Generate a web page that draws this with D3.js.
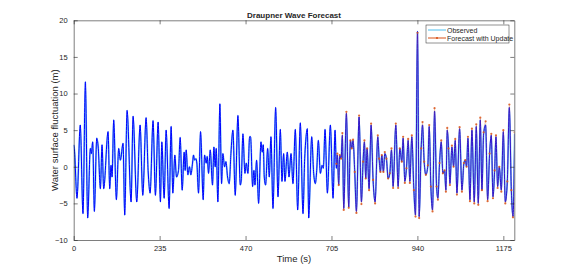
<!DOCTYPE html>
<html>
<head>
<meta charset="utf-8">
<script src="https://cdn.jsdelivr.net/npm/d3@7"></script>
<style>
  body { margin: 0; background: #fff; }
  text { font-family: "Liberation Sans", Arial, sans-serif; fill: #262626; }
</style>
</head>
<body>
<div id="chart"></div>
<script>
// observed record, read as turning points (time s, surface m)
var obsTime = [0, 2, 9, 18, 25.4, 32, 38.2, 45.5, 48.3, 52, 56.5, 63, 67, 73, 77.5, 82, 94, 98.5, 102, 105, 109.4, 116.7, 123, 127.7, 135, 139.5, 146, 157, 162.4, 172.4, 181.6, 188.9, 198, 203.5, 209, 217, 223.5, 230.9, 237.2,
  241, 247.4, 252.8, 261, 266.5, 271.1, 276.6, 281.1, 286.6, 291.2, 296.7, 302.1, 304.9, 307.6, 312.2, 316.7, 320.4, 325, 327.7, 330.4, 334.1, 336.8, 341.4, 346.9, 354.2, 357.8, 362.4, 365.1, 368.8, 373.4, 379.7, 383.4, 387, 389.8, 394.3, 399.8, 404.4, 408, 412.6, 416.3, 420.8, 425.4, 430, 435.4, 441.8, 449.1, 455.5, 458.3, 462.8, 468.3, 472, 476.5,
  481.1, 483.8, 489.3, 492.9, 495.7, 500.2, 505.7, 512.1, 515.7, 518.5, 521.2, 524.9, 530.4, 534.9, 539.5, 545, 552.3, 558.7, 565.1, 569.6, 574.2, 577.8, 584.2, 588.8, 594.3, 599.7, 606.1, 612.5, 619.8, 627.1, 631.7, 634.4, 639, 642.7, 650.9, 656.3, 660.9, 664.6, 669.1, 674.6, 679.2, 682.8, 687.4, 693.8, 702, 709.3, 714.8,
  718.4, 721.1, 724.8, 727.5, 731.2, 734.8, 738.5, 745.8, 752.2, 756.7, 760.4, 764, 768.6, 773.2, 780.5, 786.9, 791.4, 795.1, 798.7, 802.4, 807.9, 813.4, 818.8, 824.3, 831.6, 835.3, 838.9, 842.6, 847.1, 850.8, 855.3, 859.9, 864.5, 869.1, 873.6, 880.9, 887.3, 891.9, 897.3, 901, 905.6, 910.1, 914.7, 919.3, 924.7, 930.2, 934.8, 940.3, 944.8, 950.3, 954, 958.5,
  963.1, 968.6, 972.3, 976.8, 981.4, 986.9, 992.4, 996, 1000.6, 1005.2, 1009.7, 1014.3, 1017.9, 1021.6, 1025.2, 1028.9, 1034.4, 1038.9, 1043.5, 1048.1, 1055.4, 1061.8, 1067.2, 1070.9, 1074.5, 1078.2, 1083.7, 1089.1, 1095.5, 1101, 1106.5, 1112, 1116.5, 1121.1, 1126.6, 1132, 1137.5, 1142.1, 1146.7, 1151.2, 1154.9, 1159.4, 1164, 1169.5, 1175, 1180.4, 1185.9, 1191.4, 1196.9, 1201.4, 1206];
var obsValue = [3.0, 2.3, -4.3, 5.7, -6.4, 11.6, -7.0, 2.5, 1.8, 3.4, -6.1, 3.9, 2.7, -3.0, 3.0, -3.0, 4.8, -3.0, 0.2, -1.4, 6.4, -4.5, 2.5, 0.9, 3.2, -6.6, 7.7, -4.8, 6.9, -4.8, 5.7, -3.9, 6.7, -0.5, -3.6, 6.3, -3.9, 6.1, -4.8,
  3.4, -4.3, 5.0, -5.7, 5.5, -3.6, 1.6, -1.4, -0.5, 4.0, -3.2, 2.0, -0.5, 2.3, -1.1, 0, -1.1, 0.5, 1.6, 0.9, 1.1, 0.5, -3.6, 4.8, -4.5, 1.6, 0.5, 1.4, -0.9, 2.3, -2.5, 2.7, 0, 2.5, -4.8, 8.6, -2.3, 1.8, 0, 0.7, -1.4, -2.3, 1.8, 5.0, -3.9, 7.0, -2.5, -1.8, 4.5, -0.9, 0.5, -0.9,
  4.1, 4.1, -2.7, -0.5, -2.5, 0.9, -5.0, 3.4, 2.0, 3.0, -1.4, -2.5, 2.5, -1.4, 4.1, -5.7, 8.1, -4.1, 5.1, -2.0, 1.8, -2.0, 2.0, -1.4, 1.8, -2.3, 5.1, -5.9, 6.0, -6.4, 1.1, 3.4, 5.2, -7.0, 4.1, -0.9, -2.3, -0.5, 3.6, -0.9, 0.2, -0.2, 5.1, -3.6, 5.7, -4.3, 5.0,
  -0.2, 1.6, -2.5, 1.6, 1.1, 4.3, -5.7, 7.3, -5.5, 3.6, 2.5, 3.6, -0.7, -6.1, 6.8, -4.8, 0.7, 3.4, -1.6, 2.5, -3.0, 5.7, -1.8, -4.8, 4.1, 1.1, -0.7, 1.6, -0.7, 1.8, 1.1, -1.6, -0.9, 2.3, -2.7, 5.7, -2.7, 2.5, 0.7, 3.9, -2.0, -0.2, 3.6, -2.0, 4.1, -3.0, -6.6, 18.5, -6.8, 2.5, 5.7, 0.7,
  -1.1, 0.2, 5.5, -2.7, -5.9, 7.6, -2.7, -4.3, 0.5, 3.4, -0.9, -0.5, -3.2, 5.0, 2.5, -2.3, 2.7, 0, 3.6, -3.6, 5.2, -3.2, 0.5, 0.9, 0, 3.9, -4.5, 5.0, -4.8, 5.5, -5.0, 6.4, -3.2, 4.5, 5.7, -4.5, 1.8, 4.3, -4.1, -0.5, 4.1, -2.7, 0, -3.2, 4.8, -4.8, -2.0, 8.1, -3.2, -6.8, 4.5];

// forecast with update (from 718 s)
var fcTime = [718.4, 721.1, 724.8, 727.5, 731.2, 734.8, 738.5, 745.8, 752.2, 756.7, 760.4, 764, 768.6, 773.2, 780.5, 786.9, 791.4, 795.1, 798.7, 802.4, 807.9, 813.4, 818.8, 824.3, 831.6, 835.3, 838.9, 842.6, 847.1, 850.8, 855.3, 859.9, 864.5, 869.1, 873.6, 880.9, 887.3, 891.9, 897.3, 901, 905.6, 910.1, 914.7, 919.3, 924.7, 930.2, 934.8, 940.3, 944.8, 950.3, 954, 958.5,
  963.1, 968.6, 972.3, 976.8, 981.4, 986.9, 992.4, 996, 1000.6, 1005.2, 1009.7, 1014.3, 1017.9, 1021.6, 1025.2, 1028.9, 1034.4, 1038.9, 1043.5, 1048.1, 1055.4, 1061.8, 1067.2, 1070.9, 1074.5, 1078.2, 1083.7, 1089.1, 1095.5, 1101, 1106.5, 1112, 1116.5, 1121.1, 1126.6, 1132, 1137.5, 1142.1, 1146.7, 1151.2, 1154.9, 1159.4, 1164, 1169.5, 1175, 1180.4, 1185.9, 1191.4, 1196.9, 1201.4, 1206];
var fcValue = [0.4, 1.8, -2.5, 1.6, 1.1, 4.6, -5.9, 7.5, -5.6, 3.6, 2.5, 3.7, -0.7, -6.3, 7.0, -5.1, 0.7, 3.6, -1.6, 2.5, -3.2, 5.9, -1.8, -5.0, 4.3, 1.1, -0.7, 1.6, -0.7, 2.0, 1.1, -1.6, -0.9, 2.5, -2.9, 5.9, -2.9, 2.5, 0.7, 4.1, -2.2, -0.2, 3.8, -2.2, 4.3, -3.2, -6.8, 18.3, -7.0, 2.5, 6.1, 0.7,
  -1.1, 0.2, 5.7, -2.7, -6.1, 8.0, -2.7, -4.5, 0.5, 3.6, -0.9, -0.5, -3.4, 5.3, 2.5, -2.5, 2.9, 0, 3.8, -3.8, 5.4, -3.4, 0.5, 0.9, 0, 4.1, -4.7, 5.2, -5.0, 5.8, -5.2, 6.7, -3.2, 4.7, 6.2, -4.7, 1.8, 4.5, -4.3, -0.5, 4.3, -2.9, 0, -3.4, 5.0, -5.0, -2.0, 8.5, -3.2, -6.9, 4.7];

var xTicks = [0, 235, 470, 705, 940, 1175];
var yTicks = [-10, -5, 0, 5, 10, 15, 20];

var width = 568, height = 270;
var margin = {left: 73.7, right: 568 - 514.3, top: 20.3, bottom: 270 - 240};

var svg = d3.select("#chart").append("svg")
  .attr("width", width)
  .attr("height", height);

var x = d3.scaleLinear().domain([0, 1205]).range([margin.left, width - margin.right]);
var y = d3.scaleLinear().domain([-10, 20]).range([height - margin.bottom, margin.top]);

svg.append("defs").append("clipPath").attr("id", "plotclip")
  .append("rect")
  .attr("x", x(0)).attr("y", y(20))
  .attr("width", x(1205) - x(0)).attr("height", y(-10) - y(20));

var obs = obsTime.map((t, i) => ({t: t, v: obsValue[i]}));
var fc = fcTime.map((t, i) => ({t: t, v: fcValue[i]}));

var line = d3.line()
  .x(d => x(d.t))
  .y(d => y(d.v))
  .curve(d3.curveMonotoneX);

var plot = svg.append("g").attr("clip-path", "url(#plotclip)");

// observed (light blue) under the blue trace
plot.append("path")
  .attr("d", line(obs))
  .attr("fill", "none")
  .attr("stroke", "#4DBEEE")
  .attr("stroke-opacity", 0.7)
  .attr("stroke-width", 1.8);

plot.append("path")
  .attr("d", line(obs))
  .attr("fill", "none")
  .attr("stroke", "#0000FF")
  .attr("stroke-width", 1.0);

plot.append("path")
  .attr("d", line(fc))
  .attr("fill", "none")
  .attr("stroke", "#D95319")
  .attr("stroke-opacity", 0.4)
  .attr("stroke-width", 0.6);

plot.selectAll(".fc-dot").data(fc)
  .join("circle")
  .attr("class", "fc-dot")
  .attr("cx", d => x(d.t))
  .attr("cy", d => y(d.v))
  .attr("r", 1.1)
  .attr("fill", "#D95319")
  .attr("fill-opacity", 0.85);

// axes box, MATLAB style with inward ticks all round
var axisColor = "#262626";
var xAxisB = d3.axisBottom(x).tickValues(xTicks).tickSizeInner(-4).tickSizeOuter(0).tickPadding(6).tickFormat(d3.format("d"));
var xAxisT = d3.axisTop(x).tickValues(xTicks).tickSizeInner(-4).tickSizeOuter(0).tickFormat("");
var yAxisL = d3.axisLeft(y).tickValues(yTicks).tickSizeInner(-4).tickSizeOuter(0).tickPadding(6);
var yAxisR = d3.axisRight(y).tickValues(yTicks).tickSizeInner(-4).tickSizeOuter(0).tickFormat("");

function styleAxis(g) {
  g.select(".domain").attr("stroke", axisColor).attr("stroke-width", 0.6);
  g.selectAll(".tick line").attr("stroke", axisColor).attr("stroke-width", 0.6);
  g.selectAll(".tick text").attr("fill", axisColor).style("font-size", "7.5px")
    .style("font-family", "'Liberation Sans', Arial, sans-serif");
}

svg.append("g").attr("transform", `translate(0,${y(-10)})`).call(xAxisB).call(styleAxis);
svg.append("g").attr("transform", `translate(0,${y(20)})`).call(xAxisT).call(styleAxis);
svg.append("g").attr("transform", `translate(${x(0)},0)`).call(yAxisL).call(styleAxis);
svg.append("g").attr("transform", `translate(${x(1205)},0)`).call(yAxisR).call(styleAxis);

// labels
svg.append("text")
  .attr("x", (x(0) + x(1205)) / 2)
  .attr("y", 17.5)
  .attr("text-anchor", "middle")
  .style("font-size", "8px")
  .style("font-weight", "bold")
  .text("Draupner Wave Forecast");

svg.append("text")
  .attr("x", (x(0) + x(1205)) / 2)
  .attr("y", 261.5)
  .attr("text-anchor", "middle")
  .style("font-size", "9.5px")
  .text("Time (s)");

svg.append("text")
  .attr("transform", `translate(58,${(y(-10) + y(20)) / 2}) rotate(-90)`)
  .attr("text-anchor", "middle")
  .style("font-size", "9.5px")
  .text("Water surface fluctuation (m)");

// legend
var legend = svg.append("g").attr("transform", "translate(426,25)");
legend.append("rect")
  .attr("width", 83).attr("height", 18)
  .attr("fill", "#fff")
  .attr("stroke", axisColor).attr("stroke-width", 0.5);

var legendItems = [
  {label: "Observed", color: "#4DBEEE", marker: false},
  {label: "Forecast with Update", color: "#D95319", marker: true}
];
legendItems.forEach((d, i) => {
  var ly = 5 + i * 8;
  legend.append("line")
    .attr("x1", 2).attr("x2", 20).attr("y1", ly).attr("y2", ly)
    .attr("stroke", d.color).attr("stroke-width", 1);
  if (d.marker) {
    legend.append("circle").attr("cx", 11).attr("cy", ly).attr("r", 1.1).attr("fill", d.color);
  }
  legend.append("text")
    .attr("x", 21).attr("y", ly + 2.5)
    .style("font-size", "7px")
    .text(d.label);
});
</script>
</body>
</html>
